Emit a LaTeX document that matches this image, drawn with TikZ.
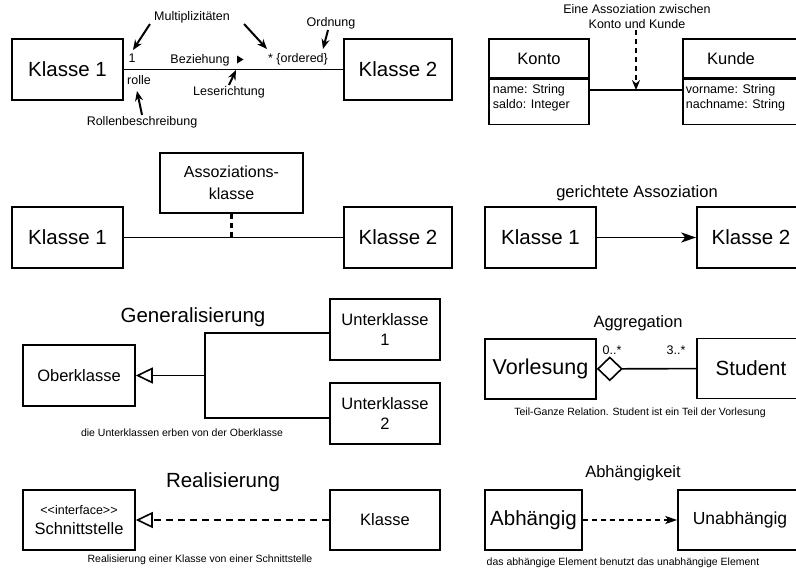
\documentclass[tikz,border=0pt]{standalone}
\usepackage{fontspec}
\setmainfont{Liberation Sans}
\usetikzlibrary{arrows.meta, positioning, calc}

\tikzset{
  klasse/.style={draw, line width=1.6pt, align=center, inner sep=1pt},
  txtbig/.style={font=\fontsize{20.5}{24}\selectfont},
  txtmid/.style={font=\fontsize{16.5}{20}\selectfont},
  txtsmall/.style={font=\fontsize{12.5}{15}\selectfont, inner sep=1pt},
  txttiny/.style={font=\fontsize{10.5}{12}\selectfont, inner sep=1pt},
  zeiger/.style={-{Stealth[length=10pt, width=8pt]}, line width=2pt},
  verbindung/.style={line width=1.6pt},
}

\begin{document}
\begin{tikzpicture}[x=1pt, y=-1pt]
      \useasboundingbox (0,0) rectangle (796,570);
      \clip (0,0) rectangle (796,570);

      \node[klasse, txtbig, minimum width=111pt, minimum height=61pt] (k1a) at (67.5,69.5) {Klasse 1};
      \node[klasse, txtbig, minimum width=108pt, minimum height=61pt] (k2a) at (398,69.5) {Klasse 2};
      \draw[verbindung] (k1a) -- (k2a);
      \node[txtsmall] (eins) at (132,58) {1};
      \node[txtsmall] (rolle) at (139,80) {rolle};
      \node[txtsmall] (bez) at (200,60) {Beziehung};
      \fill (237,55.5) -- (243.5,59.5) -- (237,63.5) -- cycle;
      \node[txtsmall] (ord) at (298,59) {* \{ordered\}};
      \node[txtsmall] (mult) at (192,17) {Multiplizitäten};
      \node[txtsmall] (ordn) at (331,23) {Ordnung};
      \node[txtsmall] (lese) at (229,92) {Leserichtung};
      \node[txtsmall] (rollb) at (142,122) {Rollenbeschreibung};
      \coordinate (p1) at (133,50);
      \coordinate (p2) at (267,49);
      \coordinate (p3) at (323,49);
      \coordinate (p4) at (236,70);
      \coordinate (p5) at (137,91);
      \draw[zeiger] ([xshift=-3pt]mult.south west) -- (p1);
      \draw[zeiger] ([xshift=13pt]mult.south east) -- (p2);
      \draw[zeiger] ([xshift=-3pt]ordn.south) -- (p3);
      \draw[zeiger] (lese.north) -- (p4);
      \draw[zeiger] (rollb.north) -- (p5);

      \node[txtsmall, align=center] (frage) at (637,17) {Eine Assoziation zwischen\\Konto und Kunde};
      \node[klasse, txtmid, minimum width=100pt, minimum height=39pt] (konto) at (539,58.5) {Konto};
      \node[klasse, minimum width=100pt, minimum height=45pt, anchor=north] (kontoattr) at (konto.south) {};
      \node[txtsmall, align=left, anchor=north west, inner sep=0pt] (kontotext) at ([xshift=4.5pt, yshift=-5pt]kontoattr.north west) {name: String\\saldo: Integer};
      \node[klasse, minimum width=120pt, minimum height=39pt] (kunde) at (743,58.5) {};
      \node[txtmid] (kundename) at (731,58.5) {Kunde};
      \node[klasse, minimum width=120pt, minimum height=45pt, anchor=north] (kundeattr) at (kunde.south) {};
      \node[txtsmall, align=left, anchor=north west, inner sep=0pt] (kundetext) at ([xshift=3.5pt, yshift=-5pt]kundeattr.north west) {vorname: String\\nachname: String};
      \draw[verbindung] ([yshift=12pt]kontoattr.east) -- ([yshift=12pt]kundeattr.west -| kunde.west);
      \coordinate (mitte) at ([yshift=12pt]$(kontoattr.east)!0.5!(kundeattr.west -| kunde.west)$);
      \draw[zeiger, dash pattern=on 5pt off 4pt] (frage.south -| mitte) -- (mitte);

      \node[klasse, txtbig, minimum width=111pt, minimum height=61pt] (k1b) at (67.5,237.5) {Klasse 1};
      \node[klasse, txtbig, minimum width=108pt, minimum height=61pt] (k2b) at (398,237.5) {Klasse 2};
      \draw[verbindung] (k1b) -- (k2b);
      \node[klasse, font=\fontsize{16}{22}\selectfont, minimum width=143pt, minimum height=60pt] (assoz) at (231.5,183) {Assoziations-\\klasse};
      \draw[line width=2.6pt, dash pattern=on 5pt off 4pt] (assoz.south) -- (assoz.south |- k1b.east);

      \node[txtmid] (gerichtet) at (637,193) {gerichtete Assoziation};
      \node[klasse, txtbig, minimum width=111pt, minimum height=61pt] (k1c) at (540.5,237.5) {Klasse 1};
      \node[klasse, txtbig, minimum width=108pt, minimum height=61pt] (k2c) at (751,237.5) {Klasse 2};
      \draw[verbindung, -{Stealth[length=15pt, width=10pt, inset=4pt]}] (k1c) -- (k2c);

      \node[txtbig] (gen) at (193,317) {Generalisierung};
      \node[klasse, txtmid, minimum width=112pt, minimum height=61pt] (ober) at (79,375.5) {Oberklasse};
      \node[klasse, txtmid, minimum width=110pt, minimum height=61pt] (unter1) at (385,329.5) {Unterklasse\\1};
      \node[klasse, txtmid, minimum width=110pt, minimum height=61pt] (unter2) at (385,413.5) {Unterklasse\\2};
      \coordinate (gabel) at (205,375.5);
      \draw[verbindung] ([yshift=-3.5pt]unter1.west) -| (gabel) |- ([yshift=-4.5pt]unter2.west);
      \draw[verbindung, -{Triangle[open, length=17pt, width=16pt]}] (gabel) -- (ober.east);
      \node[txttiny] (gentext) at (182,433) {die Unterklassen erben von der Oberklasse};

      \node[txtmid] (aggr) at (638,323) {Aggregation};
      \node[klasse, font=\fontsize{21.5}{24}\selectfont, minimum width=111pt, minimum height=60pt] (vorl) at (540.5,369) {Vorlesung};
      \node[klasse, txtbig, minimum width=108pt, minimum height=60pt] (student) at (751,368.5) {Student};
      \draw[verbindung, {Diamond[open, length=26pt, width=25pt]}-] (vorl) -- (student);
      \node[txtsmall] (mult0) at (612,350) {0..*};
      \node[txtsmall] (mult3) at (676,350) {3..*};
      \node[txttiny] (aggrtext) at (640,413) {Teil-Ganze Relation. Student ist ein Teil der Vorlesung};

      \node[txtbig] (real) at (223,482) {Realisierung};
      \node[klasse, txtmid, minimum width=112pt, minimum height=60pt] (schnitt) at (79,520) {{\fontsize{12.5}{17}\selectfont <{}<interface>{}>}\\Schnittstelle};
      \node[klasse, txtmid, minimum width=110pt, minimum height=60pt] (klasse) at (385,520) {Klasse};
      \draw[verbindung, dash pattern=on 7pt off 5pt, -{Triangle[open, length=17pt, width=16pt]}] (klasse) -- (schnitt);
      \node[txttiny] (realtext) at (200,560) {Realisierung einer Klasse von einer Schnittstelle};

      \node[txtmid] (abhk) at (633,473) {Abhängigkeit};
      \node[klasse, txtbig, minimum width=97pt, minimum height=60pt] (abh) at (533.5,520) {Abhängig};
      \node[klasse, font=\fontsize{17.5}{20}\selectfont, minimum width=124pt, minimum height=60pt] (unabh) at (740,520) {Unabhängig};
      \draw[verbindung, dash pattern=on 5pt off 4pt, -{Stealth[length=12pt, width=8pt, inset=3pt]}] (abh) -- (unabh);
      \node[txttiny] (abhtext) at (623,563) {das abhängige Element benutzt das unabhängige Element};

    \end{tikzpicture}
\end{document}
